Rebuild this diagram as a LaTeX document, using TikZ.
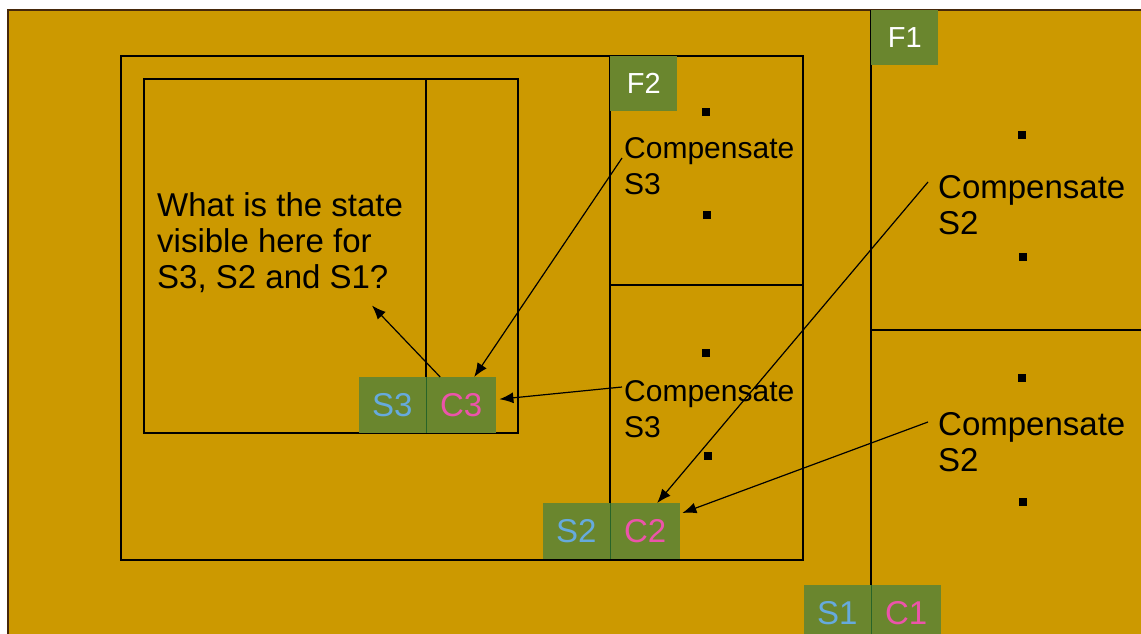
\documentclass[tikz,border=0pt]{standalone}
\usepackage{fontspec}
\setmainfont{Liberation Sans}
\usetikzlibrary{arrows.meta}
\definecolor{slidegold}{RGB}{204,153,0}
\definecolor{tagGreen}{RGB}{106,134,46}
\definecolor{tagLine}{RGB}{40,100,40}
\definecolor{stateBlue}{RGB}{102,170,221}
\definecolor{compPink}{RGB}{236,84,170}
\definecolor{edgeBrown}{RGB}{70,40,10}

\begin{document}
\begin{tikzpicture}[x=1pt,y=-1pt,
    frame/.style={draw=black,line width=1.1pt},
    stag/.style={fill=tagGreen,text=stateBlue,minimum width=67pt,minimum height=56pt,inner sep=0pt,font=\fontsize{33}{36}\selectfont},
    ctag/.style={fill=tagGreen,text=compPink,minimum width=70pt,minimum height=56pt,inner sep=0pt,font=\fontsize{33}{36}\selectfont},
    ftag/.style={fill=tagGreen,text=white,minimum width=67pt,minimum height=55pt,inner sep=0pt,font=\fontsize{29}{34}\selectfont},
    dot/.style={fill=black,minimum size=8pt,inner sep=0pt},
    note/.style={anchor=north west,inner sep=0pt,align=left},
    arr/.style={-{Latex[length=14pt,width=11pt]},line width=1.2pt}]
  \useasboundingbox (0,0) rectangle (1141,634);
  \clip (0,0) rectangle (1141,634);

  % slide
  \fill[slidegold] (8,10) rectangle (1141,634);
  \draw[edgeBrown,line width=1.2pt] (8,634) -- (8,10) -- (1141,10);

  % frames
  \draw[frame] (121,56) rectangle (803,560);
  \draw[frame] (610,56) -- (610,560);
  \draw[frame] (610,285) -- (803,285);
  \draw[frame] (144,79) rectangle (518,433);
  \draw[frame] (426,79) -- (426,433);
  \draw[frame] (871,10) -- (871,634);
  \draw[frame] (871,330) -- (1141,330);

  % frame tags
  \node[ftag,anchor=north west] (F1) at (871,10) {F1};
  \node[ftag,anchor=north west] (F2) at (610,56) {F2};

  % state / compensation tags
  \node[stag,anchor=north east] (S3) at (426,377) {S3};
  \node[ctag,anchor=north west] (C3) at (426,377) {C3};
  \node[stag,anchor=north east] (S2) at (610,503) {S2};
  \node[ctag,anchor=north west] (C2) at (610,503) {C2};
  \node[stag,anchor=north east] (S1) at (871,585) {S1};
  \node[ctag,anchor=north west] (C1) at (871,585) {C1};
  \draw[tagLine,line width=1pt] (S3.north east) -- (S3.south east);
  \draw[tagLine,line width=1pt] (S2.north east) -- (S2.south east);
  \draw[tagLine,line width=1pt] (S1.north east) -- (S1.south east);

  % dots
  \foreach \px/\py [count=\k] in {706/112,707/215,706/353,708/456,1022/135,1023/257,1022/378,1023/502}
    \node[dot] (dot\k) at (\px,\py) {};

  % texts
  \node[note,font=\fontsize{33}{36}\selectfont] (quest) at (157,192) {What is the state\\visible here for\\S3, S2 and S1?};
  \node[note,font=\fontsize{30}{36}\selectfont] (cmpA) at (624,137) {Compensate\\S3};
  \node[note,font=\fontsize{30}{36}\selectfont] (cmpB) at (624,380) {Compensate\\S3};
  \node[note,font=\fontsize{33}{36}\selectfont] (cmpC) at (938,175) {Compensate\\S2};
  \node[note,font=\fontsize{33}{36}\selectfont] (cmpD) at (938,412) {Compensate\\S2};

  % arrows
  \draw[arr] ([xshift=-2pt,yshift=-21pt]cmpA.north west) -- ([xshift=13pt]C3.north);
  \draw[arr] ([xshift=-2pt,yshift=-7pt]cmpB.north west) -- ([xshift=3pt,yshift=6pt]C3.east);
  \draw[arr] ([xshift=-10pt,yshift=-7pt]cmpC.north west) -- ([xshift=12pt]C2.north);
  \draw[arr] ([xshift=-10pt,yshift=-10pt]cmpD.north west) -- ([xshift=2pt,yshift=-10pt]C2.north east);
  \draw[arr] ([xshift=-21pt]C3.north) -- ([xshift=215pt,yshift=-13pt]quest.south west);
\end{tikzpicture}
\end{document}
